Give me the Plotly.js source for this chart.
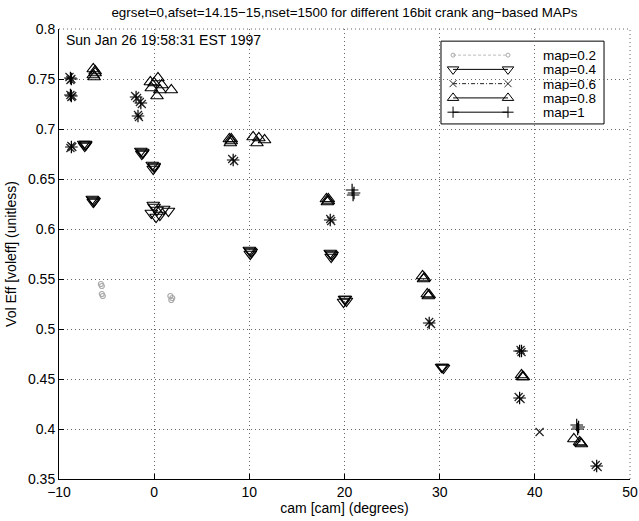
<!DOCTYPE html>
<html>
<head>
<meta charset="utf-8">
<script src="https://cdn.plot.ly/plotly-3.0.1.min.js"></script>
<style>html,body{margin:0;padding:0;background:#fff;}#chart{width:639px;height:521px;}</style>
</head>
<body>
<div id="chart"></div>
<script>
// ---- data ----
var legendLabels = ["map=0.2", "map=0.4", "map=0.6", "map=0.8", "map=1"];

var map02_x = [-5.6, -5.5, -5.5, -5.4, 1.7, 1.9, 1.8];
var map02_y = [0.545, 0.543, 0.535, 0.533, 0.533, 0.531, 0.529];

var map04_x = [-7.4, -7.2, -7.3, -7.2,
               -6.5, -6.3, -6.4, -6.4,
               -1.4, -1.2, -1.3, -1.2,
               -0.2, 0.0, -0.1, 0.0,
               -0.3, 0.0, 0.3, 0.6, 0.2, 1.5, 1.0, -0.1,
               10.0, 10.2, 10.1, 10.1,
               18.5, 18.7, 18.6, 18.6,
               20.0, 20.2, 19.9, 20.1,
               30.2, 30.4, 30.3];
var map04_y = [0.685, 0.684, 0.683, 0.685,
               0.630, 0.628, 0.627, 0.629,
               0.678, 0.676, 0.675, 0.677,
               0.664, 0.662, 0.660, 0.663,
               0.616, 0.622, 0.619, 0.614, 0.612, 0.618, 0.620, 0.624,
               0.579, 0.577, 0.575, 0.578,
               0.576, 0.574, 0.572, 0.575,
               0.530, 0.528, 0.527, 0.530,
               0.462, 0.461, 0.462];

var map06_x = [-8.9, -8.7, -8.8, -8.8, -8.7, -8.6, -8.7, -8.8, -8.6,
               -2.0, -1.8, -1.5, -1.3, -1.7, -1.6,
               8.2, 8.4, 18.5, 18.6, 28.9, 29.1,
               38.5, 38.6, 38.3, 38.5, 40.5, 46.4, 46.6];
var map06_y = [0.752, 0.750, 0.749, 0.734, 0.732, 0.733, 0.683, 0.681, 0.682,
               0.733, 0.731, 0.727, 0.725, 0.714, 0.712,
               0.670, 0.668, 0.610, 0.608, 0.507, 0.505,
               0.479, 0.477, 0.432, 0.430, 0.397, 0.364, 0.362];

var map08_x = [-6.4, -6.2, -6.3, -6.2, -6.4,
               -0.4, 0.4, -0.3, 0.6, 1.8, 0.3, 0.0, 0.8,
               7.9, 8.1, 8.0, 8.1,
               10.4, 11.0, 11.6, 10.8,
               18.1, 18.3, 18.2, 18.3,
               28.2, 28.4, 28.3,
               28.7, 28.9, 28.8,
               38.6, 38.8, 38.7,
               44.1, 44.7, 44.9, 44.8];
var map08_y = [0.760, 0.756, 0.752, 0.758, 0.754,
               0.747, 0.751, 0.741, 0.739, 0.739, 0.733, 0.746, 0.744,
               0.690, 0.688, 0.686, 0.690,
               0.692, 0.691, 0.689, 0.686,
               0.630, 0.628, 0.627, 0.630,
               0.553, 0.551, 0.550,
               0.535, 0.534, 0.533,
               0.454, 0.452, 0.452,
               0.390, 0.387, 0.385, 0.386];

var map1_x = [-8.8, -8.7, -8.7, -8.8, -8.7, -1.9, -1.4, -1.7, 8.3, 18.5,
              20.8, 21.0, 20.9, 28.9, 38.4, 38.6, 38.4, 44.4, 44.6, 44.5, 46.5];
var map1_y = [0.751, 0.750, 0.733, 0.734, 0.682, 0.732, 0.726, 0.713, 0.669, 0.609,
              0.639, 0.636, 0.634, 0.506, 0.478, 0.478, 0.431, 0.404, 0.402, 0.400, 0.363];

var xTicks = [-10, 0, 10, 20, 30, 40, 50];
var yTicks = [0.35, 0.4, 0.45, 0.5, 0.55, 0.6, 0.65, 0.7, 0.75, 0.8];
var yTickText = ["0.35", "0.4", "0.45", "0.5", "0.55", "0.6", "0.65", "0.7", "0.75", "0.8"];

// ---- styles ----
var styles = [
  {symbol: "circle-open", size: 5, color: "#aaaaaa", dash: "3px,2px", lcolor: "#bbbbbb"},
  {symbol: "triangle-down-open", size: 11, color: "#000", dash: "solid", lcolor: "#000"},
  {symbol: "x-thin-open", size: 8, color: "#222", dash: "4px,2px,1px,2px", lcolor: "#222"},
  {symbol: "triangle-up-open", size: 11, color: "#000", dash: "solid", lcolor: "#000"},
  {symbol: "cross-thin-open", size: 9, color: "#000", dash: "solid", lcolor: "#000"}
];
var seriesX = [map02_x, map04_x, map06_x, map08_x, map1_x];
var seriesY = [map02_y, map04_y, map06_y, map08_y, map1_y];

var traces = [];
for (var i = 0; i < 5; i++) {
  traces.push({
    type: "scatter", mode: "markers", x: seriesX[i], y: seriesY[i],
    name: legendLabels[i], showlegend: false, cliponaxis: false,
    marker: {symbol: styles[i].symbol, size: styles[i].size, color: styles[i].color,
             line: {width: 1.2, color: styles[i].color}}
  });
}
// legend samples on a separate hidden axis pair placed inside the legend box
for (var j = 0; j < 5; j++) {
  traces.push({
    type: "scatter", mode: "lines+markers", xaxis: "x2", yaxis: "y2",
    x: [0.074, 0.411], y: [j + 1, j + 1], showlegend: false, hoverinfo: "skip",
    line: {color: styles[j].lcolor, width: 1, dash: styles[j].dash},
    marker: {symbol: styles[j].symbol, size: styles[j].size - 1, color: styles[j].color,
             line: {width: 1, color: styles[j].color}}
  });
}

var annotations = [{
  text: "Sun Jan 26 19:58:31 EST 1997", xref: "paper", yref: "paper",
  x: 0.008, y: 0.9756, xanchor: "left", yanchor: "middle", showarrow: false,
  font: {family: "Liberation Sans, Arial, sans-serif", size: 14, color: "#000"}
}];
for (var k = 0; k < 5; k++) {
  annotations.push({
    text: legendLabels[k], xref: "x2", yref: "y2", x: 0.62, y: k + 1,
    xanchor: "left", yanchor: "middle", showarrow: false,
    height: 14, borderpad: 0, valign: "middle",
    font: {family: "Liberation Sans, Arial, sans-serif", size: 13.5, color: "#000"}
  });
}

var font = {family: "Liberation Sans, Arial, sans-serif", size: 14, color: "#000"};
var layout = {
  width: 639, height: 521,
  margin: {l: 59, r: 9, t: 29, b: 42},
  paper_bgcolor: "#fff", plot_bgcolor: "rgba(0,0,0,0)",
  font: font,
  showlegend: false,
  title: {text: "egrset=0,afset=14.15\u221215,nset=1500 for different 16bit crank ang\u2212based MAPs",
          x: 0.5, xref: "paper", y: 0.977, yanchor: "middle",
          font: {family: "Liberation Sans, Arial, sans-serif", size: 13.4, color: "#000"}},
  xaxis: {range: [-10, 50], tickvals: xTicks, ticks: "inside", ticklen: 5, tickcolor: "#000",
          showline: true, linecolor: "#000", linewidth: 1, mirror: false, zeroline: false,
          showgrid: true, gridcolor: "#666", griddash: "1px,3px", gridwidth: 1,
          tickfont: font, automargin: false, domain: [0, 1],
          title: {text: "cam [cam] (degrees)", font: font, standoff: 4}},
  yaxis: {range: [0.35, 0.8], tickvals: yTicks, ticktext: yTickText, ticks: "inside", ticklen: 5,
          tickcolor: "#000", showline: true, linecolor: "#000", linewidth: 1, mirror: false,
          zeroline: false, showgrid: true, gridcolor: "#666", griddash: "1px,3px", gridwidth: 1,
          tickfont: font, automargin: false, domain: [0, 1],
          title: {text: "Vol Eff [voleff] (unitless)", font: font, standoff: 8}},
  xaxis2: {domain: [0.669, 0.9545], range: [0, 1], anchor: "y2",
           visible: false, showgrid: false, zeroline: false, fixedrange: true},
  yaxis2: {domain: [0.789, 0.973], range: [5.825, 0.021], anchor: "x2",
           visible: false, showgrid: false, zeroline: false, fixedrange: true},
  shapes: [
    {type: "rect", xref: "paper", yref: "paper", x0: 0.669, x1: 0.9545, y0: 0.789, y1: 0.973,
     line: {color: "#000", width: 1}, fillcolor: "#fff", layer: "between"},
    {type: "line", xref: "paper", yref: "paper", x0: 0, x1: 1, y0: 1, y1: 1,
     line: {color: "#666", width: 1, dash: "1px,3px"}, layer: "below"},
    {type: "line", xref: "paper", yref: "paper", x0: 1, x1: 1, y0: 0, y1: 1,
     line: {color: "#666", width: 1, dash: "1px,3px"}, layer: "below"}
  ],
  annotations: annotations
};

Plotly.newPlot("chart", traces, layout, {staticPlot: true, displayModeBar: false});
</script>
</body>
</html>
